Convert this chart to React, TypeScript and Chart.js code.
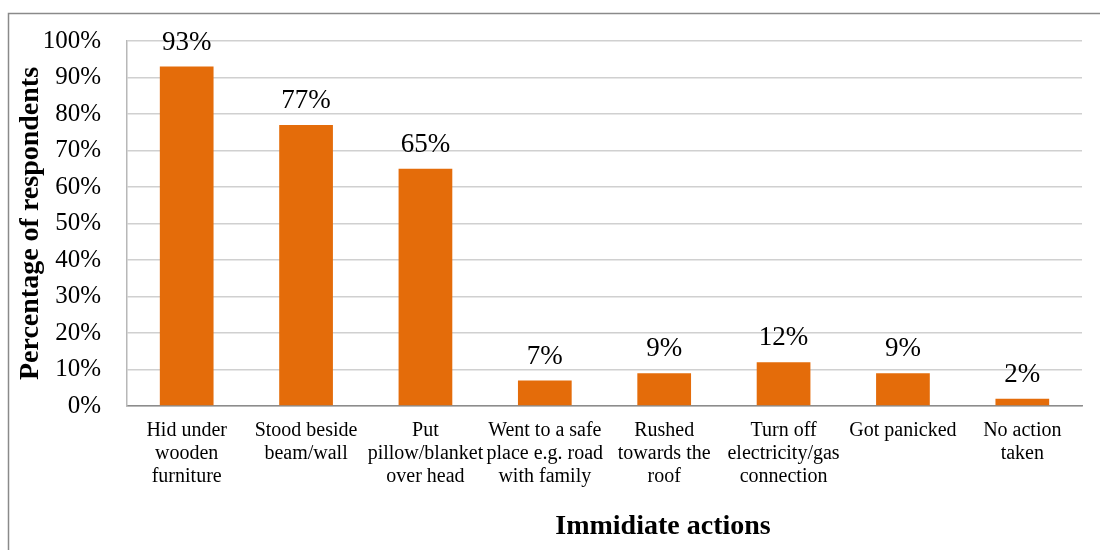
import React, { useEffect, useRef } from "react";
import { Chart, registerables } from "chart.js";

Chart.register(...registerables);

const categories: string[][] = [
  ["Hid under", "wooden", "furniture"],
  ["Stood beside", "beam/wall"],
  ["Put", "pillow/blanket", "over head"],
  ["Went to a safe", "place e.g. road", "with family"],
  ["Rushed", "towards the", "roof"],
  ["Turn off", "electricity/gas", "connection"],
  ["Got panicked"],
  ["No action", "taken"],
];
const percentages: number[] = [93, 77, 65, 7, 9, 12, 9, 2];
const yTickValues: number[] = [0, 10, 20, 30, 40, 50, 60, 70, 80, 90, 100];
const yTitle = "Percentage of respondents";
const xTitle = "Immidiate actions";

const SERIF = "'Liberation Serif', 'Times New Roman', serif";

const decorPlugin = {
  id: "decor",
  beforeDraw(chart: any) {
    const ctx = chart.ctx;
    ctx.save();
    ctx.fillStyle = "#ffffff";
    ctx.fillRect(0, 0, chart.width, chart.height);
    ctx.strokeStyle = "#8a8a8a";
    ctx.lineWidth = 1.5;
    ctx.beginPath();
    ctx.moveTo(8.5, chart.height);
    ctx.lineTo(8.5, 13.5);
    ctx.lineTo(chart.width, 13.5);
    ctx.stroke();
    ctx.restore();
  },
  afterDatasetsDraw(chart: any) {
    const ctx = chart.ctx;
    const meta = chart.getDatasetMeta(0);
    ctx.save();
    ctx.fillStyle = "#000000";
    ctx.font = `27px ${SERIF}`;
    ctx.textAlign = "center";
    ctx.textBaseline = "middle";
    meta.data.forEach((bar: any, i: number) => {
      const v = chart.data.datasets[0].data[i];
      ctx.fillText(`${v}%`, bar.x, bar.y - 24);
    });
    // axis titles
    const area = chart.chartArea;
    ctx.font = `bold 28px ${SERIF}`;
    ctx.fillText(xTitle, 663, 527);
    ctx.translate(31, (area.top + area.bottom) / 2);
    ctx.rotate(-Math.PI / 2);
    ctx.font = `bold 28px ${SERIF}`;
    ctx.fillText(yTitle, 0, 0);
    ctx.restore();
  },
};

export default function App() {
  const ref = useRef<HTMLCanvasElement | null>(null);
  useEffect(() => {
    if (!ref.current) return;
    const chart = new Chart(ref.current, {
      type: "bar",
      data: {
        labels: categories,
        datasets: [
          {
            data: percentages,
            backgroundColor: "#E46C0A",
            borderWidth: 0,
            barPercentage: 0.45,
            categoryPercentage: 1,
          },
        ],
      },
      options: {
        animation: false,
        responsive: false,
        maintainAspectRatio: false,
        layout: { padding: { left: 0, right: 18, top: 41, bottom: 0 } },
        plugins: {
          legend: { display: false },
          tooltip: { enabled: false },
        },
        scales: {
          x: {
            grid: { display: false, drawTicks: false },
            border: { display: true, color: "#8c8c8c", width: 1.5 },
            ticks: {
              color: "#000000",
              font: { family: SERIF, size: 20, lineHeight: 1.15 },
              padding: 13,
              maxRotation: 0,
              minRotation: 0,
              autoSkip: false,
            },
            afterFit(scale: any) {
              scale.height = 144;
            },
          },
          y: {
            min: 0,
            max: 100,
            afterBuildTicks(scale: any) {
              scale.ticks = yTickValues.map((v) => ({ value: v }));
            },
            grid: { color: "#d0d0d0", lineWidth: 1.5, drawTicks: false },
            border: { display: true, color: "#b8b8b8", width: 1.5 },
            ticks: {
              color: "#000000",
              font: { family: SERIF, size: 25 },
              padding: 26,
              callback: (v: any) => `${v}%`,
            },
            afterFit(scale: any) {
              scale.width = 127;
            },
          },
        },
      },
      plugins: [decorPlugin],
    });
    return () => chart.destroy();
  }, []);
  return (
    <div style={{ position: "absolute", left: 0, top: 0, width: 1100, height: 550 }}>
      <canvas ref={ref} width={1100} height={550} style={{ width: 1100, height: 550 }} />
    </div>
  );
}
